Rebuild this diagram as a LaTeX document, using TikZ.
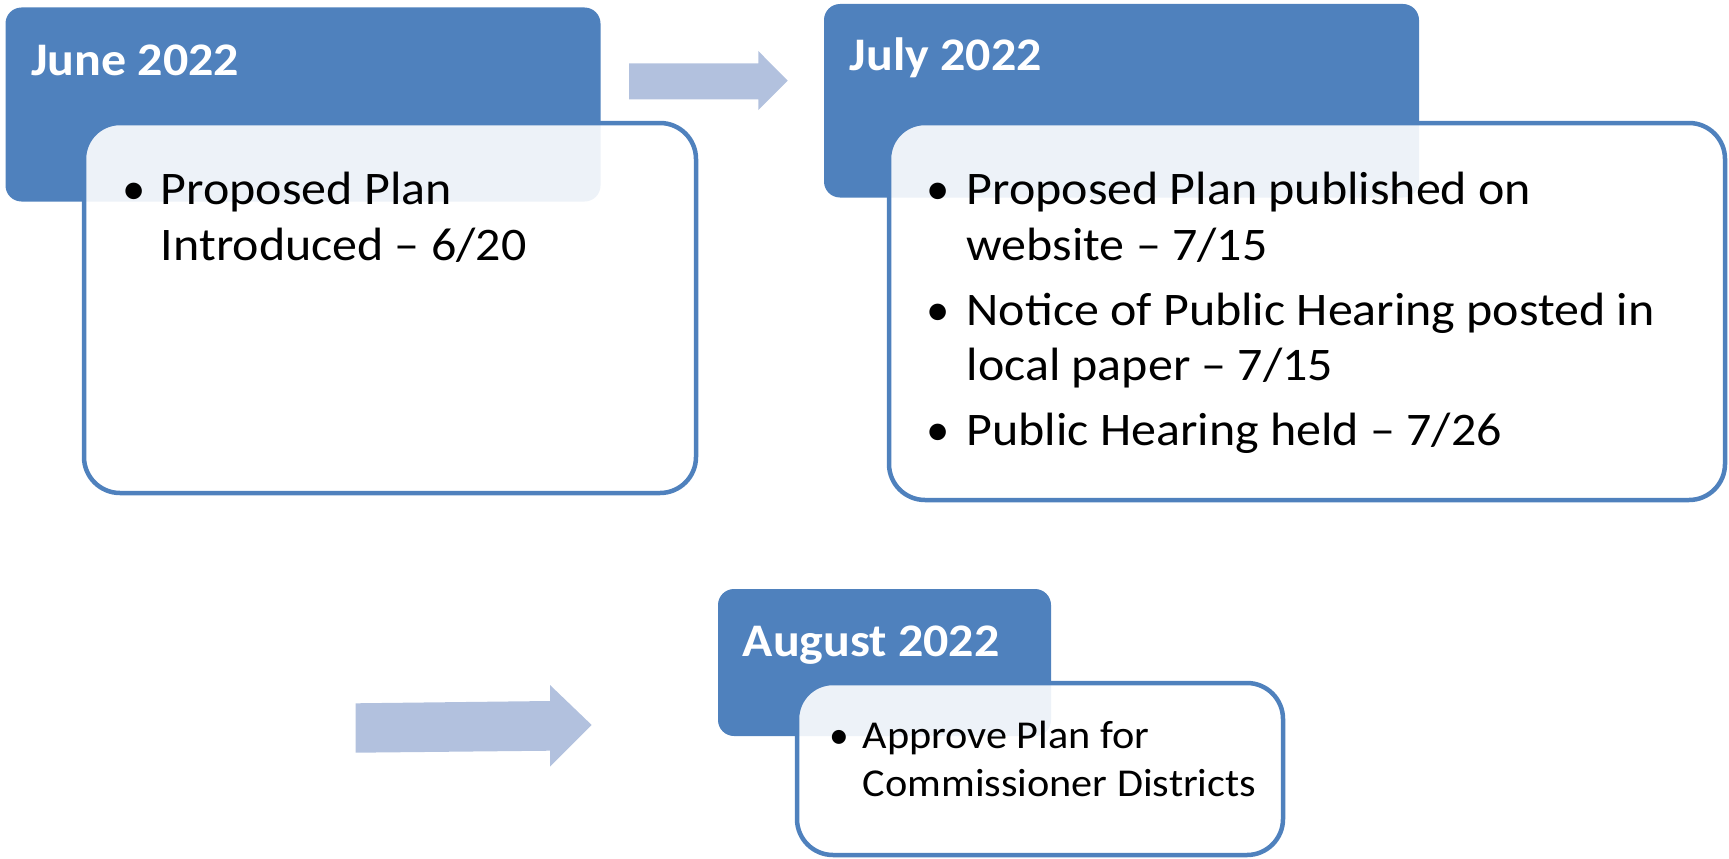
\documentclass[tikz,border=0pt]{standalone}
\usepackage{fontspec}
\setmainfont{Carlito}
\definecolor{hdrblue}{HTML}{4F81BD}
\definecolor{arrowblue}{HTML}{B2C1DE}
\tikzset{
  hdrbox/.style={fill=hdrblue, rounded corners=16pt},
  itembox/.style={draw=hdrblue, line width=4.5pt, fill=white, fill opacity=0.9, rounded corners=36pt},
  blockarrow/.style={fill=arrowblue},
  hdrtext/.style={anchor=base west, inner sep=0pt, text=white, font=\fontsize{46.7}{57}\selectfont\bfseries, xscale=1.07, transform shape},
  itemtext/.style={anchor=base west, inner sep=0pt, font=\fontsize{46.7}{57}\selectfont, xscale=1.07, transform shape},
  smalltext/.style={anchor=base west, inner sep=0pt, font=\fontsize{39.5}{48}\selectfont, xscale=1.07, transform shape},
  dot/.style={anchor=base, inner sep=0pt, font=\fontsize{46.7}{57}\selectfont},
  smalldot/.style={anchor=base, inner sep=0pt, font=\fontsize{39.5}{48}\selectfont}
}
\begin{document}
\begin{tikzpicture}[x=1pt,y=-1pt]
\useasboundingbox (0,0) rectangle (1729,859);
% arrows
\fill[blockarrow] (629,63.3) -- (758.3,63.3) -- (758.3,51) -- (787.7,80.7) -- (758.3,110) -- (758.3,99.3) -- (629,99.3) -- cycle;
\fill[blockarrow] (355.7,703.3) -- (550,701) -- (550,685) -- (591.7,725) -- (550,766.7) -- (550,750.7) -- (355.7,752.7) -- cycle;
% June
\fill[hdrbox] (5.5,7.5) rectangle (600.5,201.5);
\draw[itembox] (84,123) rectangle (696,493);
\node[hdrtext] (junehdr) at (31,75) {June 2022};
\node[dot] (junedot) at (134,204) {•};
\node[itemtext] (junea) at (160.7,204) {Proposed Plan};
\node[itemtext] (juneb) at (160.7,260) {Introduced -- 6/20};
% July
\fill[hdrbox] (824,4) rectangle (1419,197.5);
\draw[itembox] (889,123) rectangle (1725,500);
\node[hdrtext] (julyhdr) at (849.6,70.7) {July 2022};
\node[dot] (julydota) at (938.6,204) {•};
\node[itemtext] (julya) at (966.4,204) {Proposed Plan published on};
\node[itemtext] (julyb) at (966.4,260) {website -- 7/15};
\node[dot] (julydotb) at (938.6,325) {•};
\node[itemtext] (julyc) at (966.4,325) {Notice of Public Hearing posted in};
\node[itemtext] (julyd) at (966.4,380) {local paper -- 7/15};
\node[dot] (julydotc) at (938.6,445) {•};
\node[itemtext] (julye) at (966.4,445) {Public Hearing held -- 7/26};
% August
\fill[hdrbox] (718,589) rectangle (1051,736);
\draw[itembox] (797,683) rectangle (1283,855);
\node[hdrtext] (aughdr) at (742.5,656) {August 2022};
\node[smalldot] (augdot) at (839,748) {•};
\node[smalltext] (auga) at (862.5,748) {Approve Plan for};
\node[smalltext] (augb) at (862.5,796.7) {Commissioner Districts};
\end{tikzpicture}
\end{document}
